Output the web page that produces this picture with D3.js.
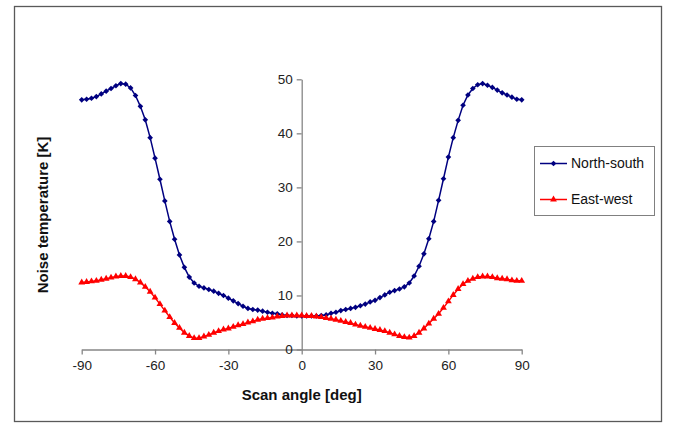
<!DOCTYPE html>
<html>
<head>
<meta charset="utf-8">
<script src="https://cdn.jsdelivr.net/npm/d3@7"></script>
<style>
  body { margin: 0; background: #fff; }
  text { font-family: "Liberation Sans", Arial, sans-serif; }
</style>
</head>
<body>
<div id="canvas"></div>
<script>
"use strict"

/* Data: scan angle every 2 deg */
let angles = [
    -90, -88, -86, -84, -82, -80, -78, -76, -74, -72, -70, -68, -66, -64, -62,
    -60, -58, -56, -54, -52, -50, -48, -46, -44, -42, -40, -38, -36, -34, -32,
    -30, -28, -26, -24, -22, -20, -18, -16, -14, -12, -10, -8, -6, -4, -2,
    0,
    2, 4, 6, 8, 10, 12, 14, 16, 18, 20, 22, 24, 26, 28, 30,
    32, 34, 36, 38, 40, 42, 44, 46, 48, 50, 52, 54, 56, 58, 60,
    62, 64, 66, 68, 70, 72, 74, 76, 78, 80, 82, 84, 86, 88, 90
];

let northSouth = [
    46.2, 46.3, 46.5, 46.8, 47.3, 47.8, 48.3, 48.8, 49.2, 49.1, 48.4, 47.0, 45.0, 42.5, 39.2,
    35.4, 31.5, 27.5, 23.7, 20.4, 17.5, 15.2, 13.4, 12.3, 11.7, 11.4, 11.1, 10.8, 10.4, 10.0,
    9.5, 9.0, 8.5, 8.0, 7.6, 7.4, 7.3, 7.1, 6.9, 6.7, 6.6, 6.4, 6.3, 6.3, 6.2,
    6.2,
    6.2, 6.2, 6.2, 6.3, 6.4, 6.7, 6.9, 7.2, 7.4, 7.6, 7.8, 8.1, 8.4, 8.8, 9.1,
    9.6, 10.1, 10.6, 10.9, 11.2, 11.6, 12.3, 13.6, 15.4, 17.7, 20.5, 23.7, 27.6, 31.6, 35.6,
    39.2, 42.4, 45.2, 47.1, 48.3, 49.0, 49.2, 48.9, 48.5, 48.0, 47.5, 47.1, 46.7, 46.3, 46.2
];

let eastWest = [
    12.4, 12.5, 12.6, 12.7, 12.9, 13.1, 13.3, 13.5, 13.6, 13.6, 13.4, 13.0, 12.4, 11.6, 10.7,
    9.6, 8.4, 7.2, 6.0, 4.9, 4.0, 3.1, 2.5, 2.1, 2.1, 2.4, 2.7, 3.1, 3.4, 3.7,
    3.9, 4.2, 4.5, 4.7, 5.0, 5.2, 5.5, 5.7, 5.8, 5.9, 6.1, 6.2, 6.3, 6.3, 6.3,
    6.3,
    6.2, 6.2, 6.1, 6.0, 5.8, 5.7, 5.5, 5.3, 5.1, 4.9, 4.6, 4.4, 4.2, 4.0, 3.8,
    3.6, 3.4, 3.1, 2.8, 2.5, 2.3, 2.2, 2.5, 3.1, 3.9, 4.8, 5.7, 6.6, 7.7, 8.9,
    10.1, 11.2, 12.1, 12.7, 13.1, 13.4, 13.5, 13.5, 13.4, 13.2, 13.1, 13.0, 12.8, 12.7, 12.7
];

let xTicks = [-90, -60, -30, 0, 30, 60, 90];
let yTicks = [0, 10, 20, 30, 40, 50];
let seriesNames = ["North-south", "East-west"];

/* Drawing configuration */
let svgWidth = 676;
let svgHeight = 424;
let axisColor = "#868686";

let svg = d3.select("#canvas")
    .append("svg")
    .attr("width", svgWidth)
    .attr("height", svgHeight);

/* chart area border */
svg.append("rect")
    .attr("x", 14.5)
    .attr("y", 6.5)
    .attr("width", 647)
    .attr("height", 415)
    .attr("fill", "none")
    .attr("stroke", "#595959")
    .attr("stroke-width", 1.3);

let xScale = d3.scaleLinear()
    .domain([-90, 90])
    .range([81.7, 521.7]);

let yScale = d3.scaleLinear()
    .domain([0, 50])
    .range([349.5, 79.3]);

/* plain hyphen for negatives, like the original */
let plainFormat = function (d) { return String(d); };

/* x axis */
let xAxis = svg.append("g")
    .attr("transform", "translate(0," + yScale(0) + ")")
    .call(d3.axisBottom(xScale).tickValues(xTicks).tickFormat(plainFormat)
        .tickSize(5).tickSizeOuter(0).tickPadding(6));

/* y axis sits at angle 0 */
let yAxis = svg.append("g")
    .attr("transform", "translate(" + xScale(0) + ",0)")
    .call(d3.axisLeft(yScale).tickValues(yTicks).tickFormat(plainFormat)
        .tickSize(5).tickSizeOuter(0).tickPadding(4));

[xAxis, yAxis].forEach(function (g) {
    g.select(".domain").attr("stroke", axisColor).attr("stroke-width", 1.3);
    g.selectAll(".tick line").attr("stroke", axisColor).attr("stroke-width", 1.3);
    g.selectAll(".tick text")
        .attr("fill", "#222")
        .style("font-size", "13.5px")
        .style("font-family", "'Liberation Sans', Arial, sans-serif");
});

/* series */
let series = [
    {name: seriesNames[0], values: northSouth, color: "#000080", symbol: d3.symbolSquare, size: 16, rotate: 45},
    {name: seriesNames[1], values: eastWest, color: "#FF0000", symbol: d3.symbolTriangle, size: 20, rotate: 0}
];

let line = d3.line()
    .x(function (d) { return xScale(d[0]); })
    .y(function (d) { return yScale(d[1]); });

series.forEach(function (s) {
    let pts = angles.map(function (a, i) { return [a, s.values[i]]; });
    svg.append("path")
        .datum(pts)
        .attr("fill", "none")
        .attr("stroke", s.color)
        .attr("stroke-width", 1.5)
        .attr("d", line);
    svg.append("g")
        .selectAll("path")
        .data(pts)
        .join("path")
        .attr("d", d3.symbol().type(s.symbol).size(s.size))
        .attr("transform", function (d) {
            return "translate(" + xScale(d[0]) + "," + yScale(d[1]) + ") rotate(" + s.rotate + ")";
        })
        .attr("fill", s.color);
});

/* legend */
let legend = svg.append("g");
legend.append("rect")
    .attr("x", 534.5)
    .attr("y", 146.5)
    .attr("width", 120)
    .attr("height", 69)
    .attr("fill", "white")
    .attr("stroke", "#808080")
    .attr("stroke-width", 1);

series.forEach(function (s, i) {
    let ly = 163.5 + i * 36;
    legend.append("line")
        .attr("x1", 540)
        .attr("x2", 567)
        .attr("y1", ly)
        .attr("y2", ly)
        .attr("stroke", s.color)
        .attr("stroke-width", 1.5);
    legend.append("path")
        .attr("d", d3.symbol().type(s.symbol).size(s.size))
        .attr("transform", "translate(553.5," + ly + ") rotate(" + s.rotate + ")")
        .attr("fill", s.color);
    legend.append("text")
        .attr("x", 571)
        .attr("y", ly)
        .attr("dy", "0.35em")
        .attr("font-size", "14px")
        .attr("fill", "#111")
        .text(s.name);
});

/* axis titles */
svg.append("text")
    .attr("x", xScale(0))
    .attr("y", 400)
    .attr("text-anchor", "middle")
    .attr("font-size", "15px")
    .attr("font-weight", "bold")
    .attr("fill", "#111")
    .text("Scan angle [deg]");

svg.append("text")
    .attr("transform", "translate(48," + 215 + ") rotate(-90)")
    .attr("text-anchor", "middle")
    .attr("font-size", "15px")
    .attr("font-weight", "bold")
    .attr("fill", "#111")
    .text("Noise temperature [K]");
</script>
</body>
</html>
